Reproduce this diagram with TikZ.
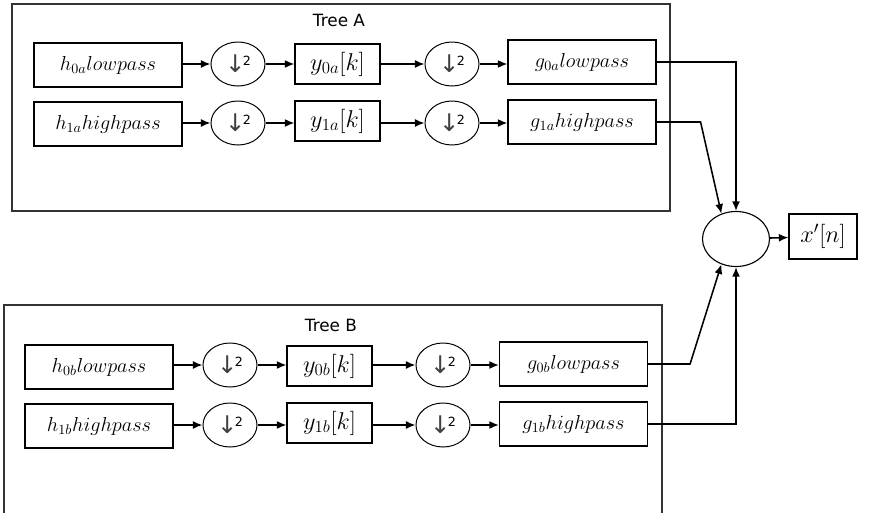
\documentclass[tikz,border=0pt]{standalone}
\usepackage{fontspec}
\newfontfamily\labelfont{DejaVu Sans}
\usepackage{amsmath}
\usetikzlibrary{arrows.meta,shapes.geometric}

\begin{document}
\begin{tikzpicture}[
    x=0.025cm, y=-0.025cm,
    filter/.style={draw, line width=0.8pt, minimum width=3.7cm, minimum height=1.1cm, inner sep=1pt, font=\Large},
    coef/.style={draw, line width=0.8pt, minimum width=2.125cm, minimum height=1cm, inner sep=1pt, font=\LARGE},
    down/.style={draw, ellipse, line width=0.7pt, minimum width=1.35cm, minimum height=1.1cm, inner sep=0pt},
    adder/.style={draw, ellipse, line width=0.8pt, minimum width=1.675cm, minimum height=1.375cm},
    frame/.style={draw=black!80, line width=0.8pt},
    flow/.style={-{Latex[length=2.4mm,width=2mm]}, line width=1.1pt}
]
\useasboundingbox (0,0) rectangle (869,513);
\newcommand{\dsmp}{{\labelfont\LARGE\textcolor{black!75}{↓}}\kern-0.2em\raisebox{1.2ex}{\labelfont\small 2}}

% tree A
\draw[frame] (12,4) rectangle (670,211);
\node[font=\labelfont\large] (titleA) at (339,20) {Tree A};
\node[filter] (h0a) at (108,65) {$h_{0a}lowpass$};
\node[down] (d0a) at (238,64) {\dsmp};
\node[coef] (y0a) at (337.5,64) {$y_{0a}[k]$};
\node[down] (u0a) at (452,64) {\dsmp};
\node[filter] (g0a) at (582,62) {$g_{0a}lowpass$};
\node[filter] (h1a) at (108,124) {$h_{1a}highpass$};
\node[down] (d1a) at (238,123) {\dsmp};
\node[coef] (y1a) at (337.5,121) {$y_{1a}[k]$};
\node[down] (u1a) at (452,123) {\dsmp};
\node[filter] (g1a) at (582,122) {$g_{1a}highpass$};

% tree B
\draw[frame] (4,513) -- (4,305) -- (662,305) -- (662,513);
\node[font=\labelfont\large] (titleB) at (331,325) {Tree B};
\node[filter] (h0b) at (99,367) {$h_{0b}lowpass$};
\node[down] (d0b) at (230,365) {\dsmp};
\node[coef] (y0b) at (329.5,366) {$y_{0b}[k]$};
\node[down] (u0b) at (443,365) {\dsmp};
\node[filter] (g0b) at (573.5,364) {$g_{0b}lowpass$};
\node[filter] (h1b) at (99,426) {$h_{1b}highpass$};
\node[down] (d1b) at (230,425) {\dsmp};
\node[coef] (y1b) at (329.5,423) {$y_{1b}[k]$};
\node[down] (u1b) at (443,425) {\dsmp};
\node[filter] (g1b) at (573.5,424) {$g_{1b}highpass$};

% synthesis
\node[adder] (sum) at (736,239) {};
\node[coef, minimum width=1.7cm, minimum height=1.125cm] (xn) at (823,236.5) {$x'[n]$};

\draw[flow] (h0a.east |- d0a) -- (d0a);
\draw[flow] (d0a) -- (y0a);
\draw[flow] (y0a) -- (u0a);
\draw[flow] (u0a) -- (g0a.west |- u0a);
\draw[flow] (h1a.east |- d1a) -- (d1a);
\draw[flow] (d1a) -- (y1a.west |- d1a);
\draw[flow] (y1a.east |- u1a) -- (u1a);
\draw[flow] (u1a) -- (g1a.west |- u1a);
\draw[flow] (h0b.east |- d0b) -- (d0b);
\draw[flow] (d0b) -- (y0b.west |- d0b);
\draw[flow] (y0b.east |- u0b) -- (u0b);
\draw[flow] (u0b) -- (g0b.west |- u0b);
\draw[flow] (h1b.east |- d1b) -- (d1b);
\draw[flow] (d1b) -- (y1b.west |- d1b);
\draw[flow] (y1b.east |- u1b) -- (u1b);
\draw[flow] (u1b) -- (g1b.west |- u1b);

\draw[flow] (g0a.east) -| (sum.north);
\draw[flow] (g1a.east) -- ++(44,0) -- (sum.120);
\draw[flow] (g0b.east) -- ++(42,0) -- (sum.240);
\draw[flow] (g1b.east) -| (sum.south);
\draw[flow] (sum) -- (xn);
\end{tikzpicture}
\end{document}
